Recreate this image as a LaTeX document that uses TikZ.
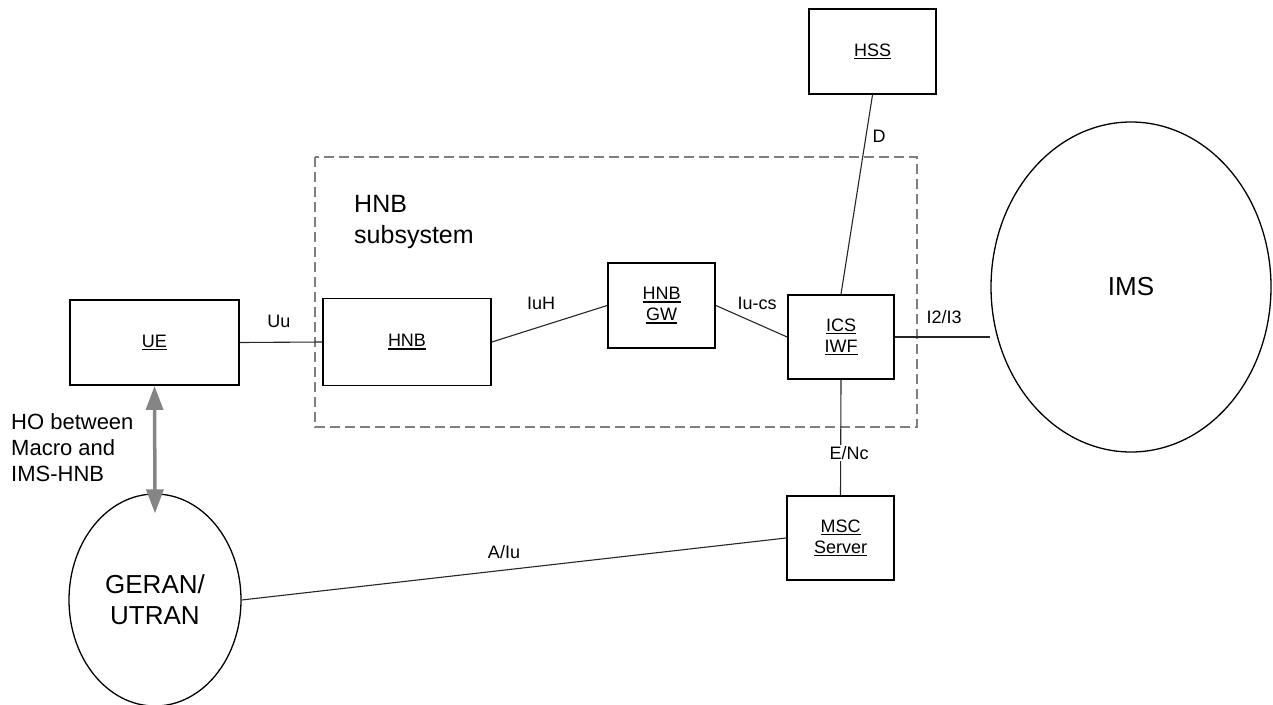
\documentclass[tikz,border=0pt]{standalone}
\usepackage{fontspec}
\setmainfont{Liberation Sans}
\usetikzlibrary{arrows.meta,shapes.geometric,calc}
\newsavebox\ulbox
\newcommand\myul[1]{\sbox\ulbox{#1}\rlap{\rule[-3pt]{\wd\ulbox}{1.3pt}}\usebox\ulbox}
\definecolor{hogray}{HTML}{858585}
\definecolor{dashgray}{HTML}{7F7F7F}
\begin{document}
\begin{tikzpicture}[x=1pt,y=-1pt,
  box/.style={draw, line width=1.8pt, align=center, inner sep=0pt,
    font=\fontsize{18}{21}\selectfont},
  cloud/.style={draw, ellipse, line width=1.3pt, inner sep=0pt, align=center,
    font=\fontsize{26}{31}\selectfont},
  lbl/.style={inner sep=1pt, font=\fontsize{18}{21}\selectfont},
  conn/.style={line width=1.1pt, draw=black!85},
  dashbox/.style={draw=dashgray, line width=1.5pt, dash pattern=on 10pt off 5pt},
  hoarrow/.style={draw=hogray, line width=3.5pt,
    {Triangle[length=24pt,width=17pt]}-{Triangle[length=24pt,width=17pt]}},
  big/.style={font=\fontsize{25}{31}\selectfont, align=left, inner sep=0pt}]
\useasboundingbox (0,0) rectangle (1273,704);

\draw[dashbox] (315,157) rectangle (917,427);
\node[big, anchor=west] (sub) at (354,222) {HNB\\subsystem};

\node[box, minimum width=169, minimum height=85] (UE) at (154.5,342.5) {\myul{UE}};
\node[box, minimum width=168, minimum height=87] (HNB) at (407,342) {\myul{HNB}};
\node[box, minimum width=107, minimum height=85] (GW) at (661.5,305.5) {\myul{HNB}\\\myul{GW}};
\node[box, minimum width=106, minimum height=84] (ICS) at (841,337) {\myul{ICS}\\\myul{IWF}};
\node[box, minimum width=127, minimum height=85] (HSS) at (872.5,51.5) {\myul{HSS}};
\node[box, minimum width=107, minimum height=84] (MSC) at (840.5,538) {\myul{MSC}\\\myul{Server}};

\node[cloud, minimum width=280, minimum height=330] (IMS) at (1131,287) {IMS};
\node[cloud, minimum width=172, minimum height=212] (GERAN) at (155,600) {GERAN/\\UTRAN};

\draw[conn] (UE.east) -- (HNB.west);
\draw[conn] (HNB.east) -- (GW.west);
\draw[conn] (GW.east) -- (ICS.west);
\draw[conn] (ICS.east) -- (ICS.east -| IMS.west);
\draw[conn] (HSS.south) -- (ICS.north);
\draw[conn] (ICS.south) -- (MSC.north);
\draw[conn] (GERAN.east) -- (MSC.west);

\node[lbl] (lUu) at (279,321) {Uu};
\node[lbl] (lIuH) at (541,303) {IuH};
\node[lbl] (lIucs) at (757,303) {Iu-cs};
\node[lbl] (lI2) at (944,317) {I2/I3};
\node[lbl] (lD) at (879,136) {D};
\node[lbl, fill=white] (lENc) at (849,453) {E/Nc};
\node[lbl] (lAIu) at (504,552) {A/Iu};

\draw[hoarrow] (UE.south) -- ($(GERAN.north)+(0,20)$);
\node[font=\fontsize{22}{26}\selectfont, align=left, inner sep=0pt, anchor=west] (ho) at (11,448)
  {HO between\\Macro and\\IMS-HNB};
\end{tikzpicture}
\end{document}
